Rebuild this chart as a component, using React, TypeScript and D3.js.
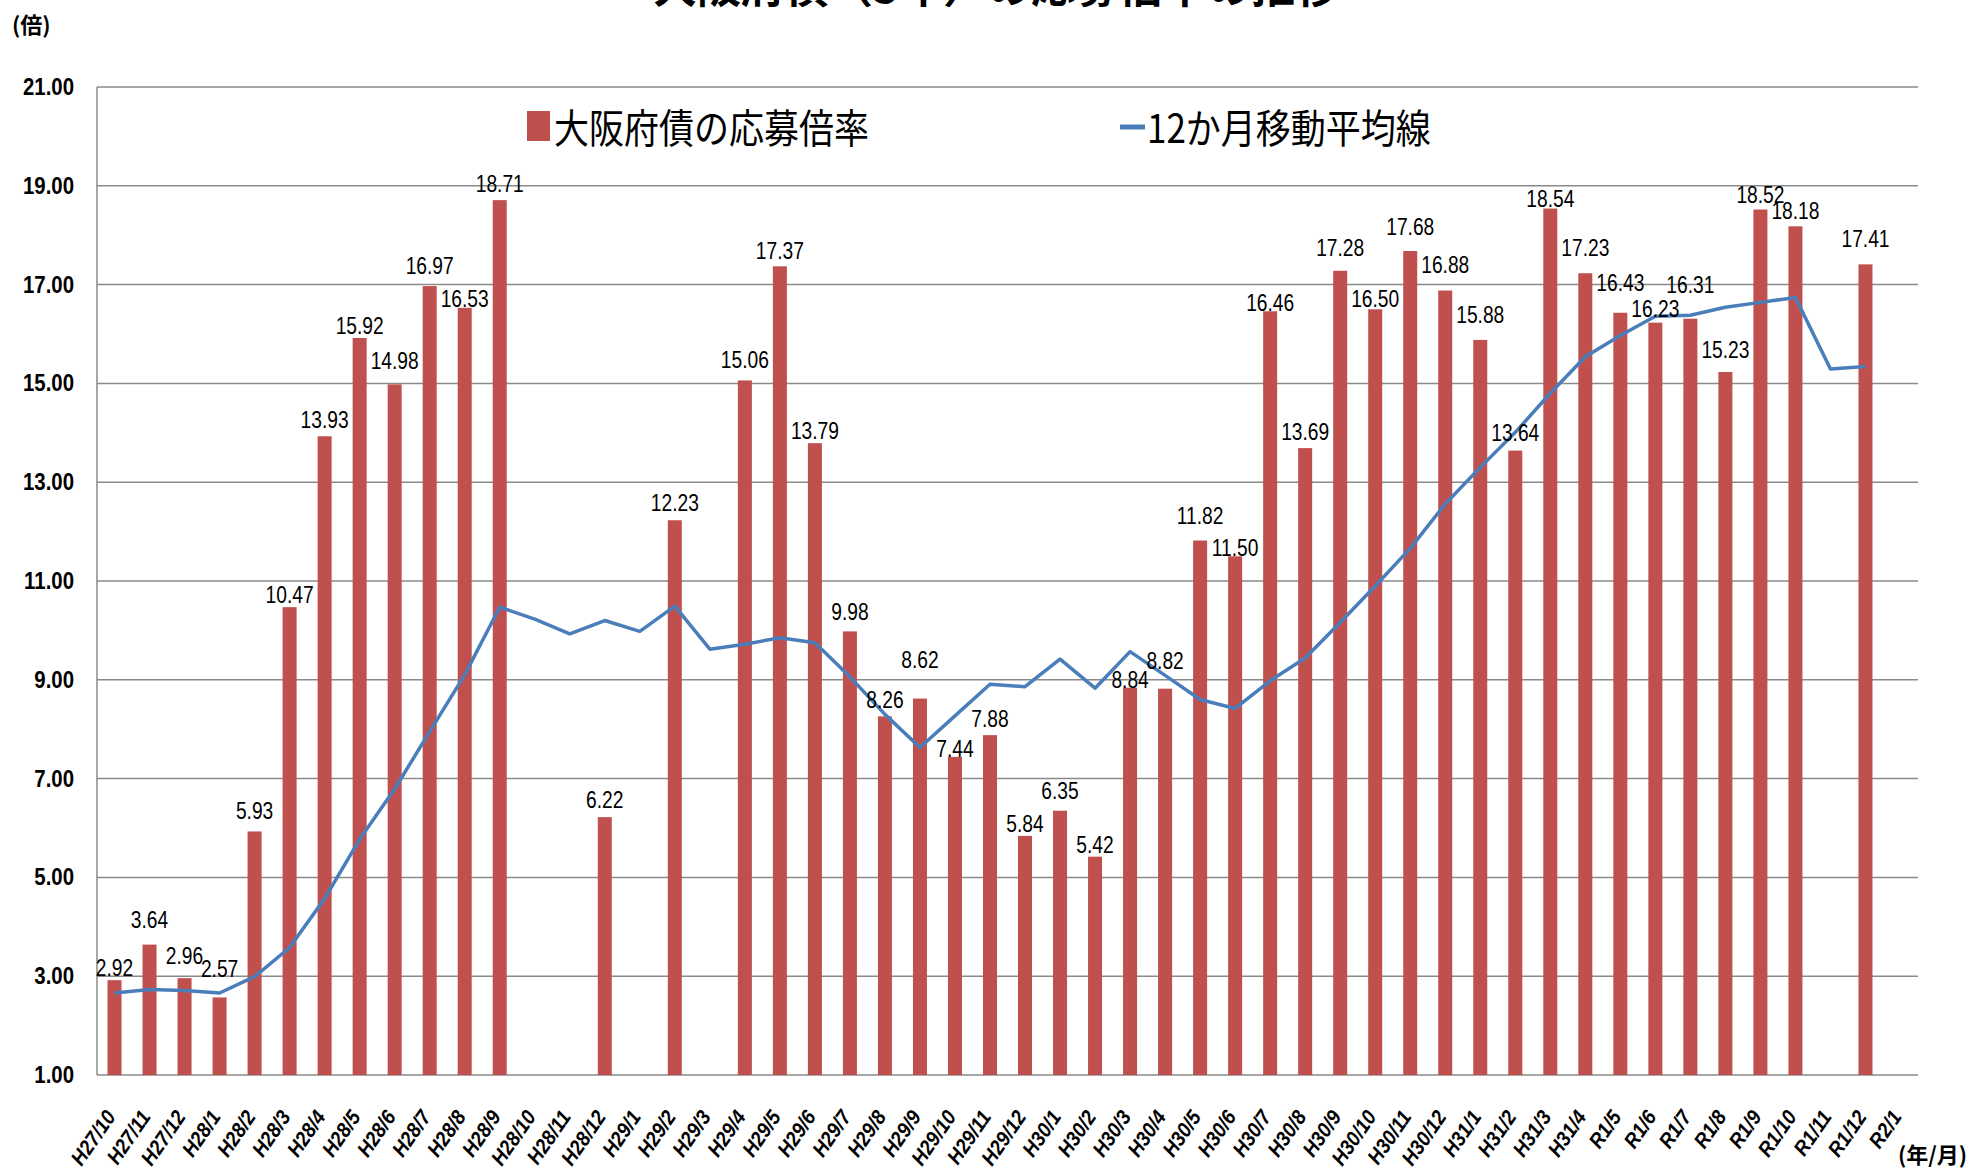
import React, { useEffect, useRef } from 'react';
import * as d3 from 'd3';

// months (和暦 年/月)
const months = [
  'H27/10', 'H27/11', 'H27/12',
  'H28/1', 'H28/2', 'H28/3', 'H28/4', 'H28/5', 'H28/6', 'H28/7', 'H28/8', 'H28/9', 'H28/10', 'H28/11', 'H28/12',
  'H29/1', 'H29/2', 'H29/3', 'H29/4', 'H29/5', 'H29/6', 'H29/7', 'H29/8', 'H29/9', 'H29/10', 'H29/11', 'H29/12',
  'H30/1', 'H30/2', 'H30/3', 'H30/4', 'H30/5', 'H30/6', 'H30/7', 'H30/8', 'H30/9', 'H30/10', 'H30/11', 'H30/12',
  'H31/1', 'H31/2', 'H31/3', 'H31/4',
  'R1/5', 'R1/6', 'R1/7', 'R1/8', 'R1/9', 'R1/10', 'R1/11', 'R1/12', 'R2/1'
];

// 大阪府債の応募倍率 (null = no issue that month)
const ratios: (number | null)[] = [
  2.92, 3.64, 2.96,
  2.57, 5.93, 10.47, 13.93, 15.92, 14.98, 16.97, 16.53, 18.71, null, null, 6.22,
  null, 12.23, null, 15.06, 17.37, 13.79, 9.98, 8.26, 8.62, 7.44, 7.88, 5.84,
  6.35, 5.42, 8.84, 8.82, 11.82, 11.50, 16.46, 13.69, 17.28, 16.50, 17.68, 16.88,
  15.88, 13.64, 18.54, 17.23,
  16.43, 16.23, 16.31, 15.23, 18.52, 18.18, null, 17.41, null
];

// 12か月移動平均線
const movingAvg: (number | null)[] = [
  2.66, 2.73, 2.71,
  2.66, 2.99, 3.58, 4.57, 5.77, 6.79, 7.95, 9.1, 10.47, 10.23, 9.93, 10.2,
  9.98, 10.49, 9.62, 9.72, 9.85, 9.75, 9.06, 8.3, 7.63, 8.27, 8.91, 8.86,
  9.42, 8.83, 9.57, 9.09, 8.6, 8.42, 8.98, 9.44, 10.16, 10.9, 11.66, 12.56,
  13.3, 14.01, 14.8, 15.54,
  15.97, 16.36, 16.38, 16.54, 16.64, 16.74, 15.29, 15.34, null
];

const yTicks = [1, 3, 5, 7, 9, 11, 13, 15, 17, 19, 21];

// how far (px) each data label sits above its bar, as placed in the original
const labelGap: Record<string, number> = {
  'H27/10': 4, 'H27/11': 17, 'H27/12': 14, 'H28/1': 20, 'H28/2': 12, 'H28/3': 4,
  'H28/4': 8, 'H28/5': 4, 'H28/6': 15, 'H28/7': 12, 'H28/8': 1, 'H28/9': 8,
  'H28/12': 9, 'H29/2': 9, 'H29/4': 12, 'H29/5': 7, 'H29/6': 4, 'H29/7': 11,
  'H29/8': 8, 'H29/9': 31, 'H29/10': 0, 'H29/11': 8, 'H29/12': 4,
  'H30/1': 12, 'H30/2': 4, 'H30/3': 0, 'H30/4': 20, 'H30/5': 16, 'H30/6': 0,
  'H30/7': 0, 'H30/8': 8, 'H30/9': 15, 'H30/10': 2, 'H30/11': 16, 'H30/12': 18,
  'H31/1': 17, 'H31/2': 10, 'H31/3': 2, 'H31/4': 17,
  'R1/5': 22, 'R1/6': 6, 'R1/7': 26, 'R1/8': 14, 'R1/9': 7, 'R1/10': 7, 'R1/12': 17
};

const BAR_COLOR = '#C0504D';
const LINE_COLOR = '#4A7EBB';
const GRID_COLOR = '#8a8a8a';
const SANS = "'Liberation Sans', Arial, sans-serif";
const JP = "'Noto Sans CJK JP', sans-serif";

const App = () => {
  const ref = useRef<SVGSVGElement | null>(null);

  useEffect(() => {
    const width = 1977;
    const height = 1174;
    const plot = { left: 97, right: 1918, top: 87, bottom: 1075 };

    const svg = d3.select(ref.current);
    svg.selectAll('*').remove();
    svg.attr('width', width).attr('height', height);

    const x = d3.scaleBand<string>().domain(months).range([plot.left, plot.right]).paddingInner(0).paddingOuter(0);
    const y = d3.scaleLinear().domain([1, 21]).range([plot.bottom, plot.top]);
    const cx = (m: string) => (x(m) as number) + x.bandwidth() / 2;

    // title (cut off at the top of the picture, as in the original)
    svg.append('text')
      .attr('x', 996).attr('y', 3)
      .attr('text-anchor', 'middle')
      .style('font-family', JP).style('font-weight', 'bold').style('font-size', '44px')
      .text('大阪府債（5年）の応募倍率の推移');

    // horizontal grid lines
    svg.append('g').selectAll('line')
      .data(yTicks)
      .enter().append('line')
      .attr('x1', plot.left).attr('x2', plot.right)
      .attr('y1', d => y(d)).attr('y2', d => y(d))
      .attr('stroke', GRID_COLOR).attr('stroke-width', 1.5);

    // left axis line
    svg.append('line')
      .attr('x1', plot.left).attr('x2', plot.left)
      .attr('y1', plot.top).attr('y2', plot.bottom)
      .attr('stroke', GRID_COLOR).attr('stroke-width', 1.5);

    // y tick labels
    svg.append('g').selectAll('text')
      .data(yTicks)
      .enter().append('text')
      .attr('transform', d => `translate(74,${y(d) + 8}) scale(0.85,1)`)
      .attr('text-anchor', 'end')
      .style('font-family', SANS).style('font-weight', 'bold').style('font-size', '24px')
      .text(d => d.toFixed(2));

    svg.append('text')
      .attr('x', 12).attr('y', 33)
      .style('font-family', JP).style('font-weight', 'bold').style('font-size', '22px')
      .text('(倍)');

    // bars
    const barW = x.bandwidth() * 0.4;
    const barData = months.map((m, i) => ({ m, v: ratios[i] })).filter(d => d.v !== null) as { m: string; v: number }[];
    svg.append('g').selectAll('rect')
      .data(barData)
      .enter().append('rect')
      .attr('x', d => cx(d.m) - barW / 2)
      .attr('y', d => y(d.v))
      .attr('width', barW)
      .attr('height', d => y(1) - y(d.v))
      .attr('fill', BAR_COLOR);

    // moving average line
    const lineData = months.map((m, i) => ({ m, v: movingAvg[i] })).filter(d => d.v !== null) as { m: string; v: number }[];
    const line = d3.line<{ m: string; v: number }>().x(d => cx(d.m)).y(d => y(d.v));
    svg.append('path')
      .datum(lineData)
      .attr('d', line)
      .attr('fill', 'none')
      .attr('stroke', LINE_COLOR)
      .attr('stroke-width', 3.5)
      .attr('stroke-linejoin', 'round');

    // data labels
    svg.append('g').selectAll('text')
      .data(barData)
      .enter().append('text')
      .attr('transform', d => `translate(${cx(d.m)},${y(d.v) - (labelGap[d.m] ?? 6)}) scale(0.8,1)`)
      .attr('text-anchor', 'middle')
      .style('font-family', SANS).style('font-size', '24px')
      .text(d => d.v.toFixed(2));

    // x tick labels (rotated)
    svg.append('g').selectAll('text')
      .data(months)
      .enter().append('text')
      .attr('transform', d => `translate(${cx(d) + 2},${plot.bottom + 42}) rotate(-55) scale(0.9,1)`)
      .attr('text-anchor', 'end')
      .style('font-family', SANS).style('font-weight', 'bold').style('font-style', 'italic').style('font-size', '21px')
      .text(d => d);

    svg.append('text')
      .attr('x', 1898).attr('y', 1163)
      .style('font-family', JP).style('font-weight', 'bold').style('font-size', '22px')
      .text('(年/月)');

    // legend
    const legend = svg.append('g');
    legend.append('rect')
      .attr('x', 527).attr('y', 111).attr('width', 23).attr('height', 30)
      .attr('fill', BAR_COLOR);
    legend.append('text')
      .attr('transform', 'translate(554,143) scale(0.875,1)')
      .style('font-family', JP).style('font-size', '40px')
      .text('大阪府債の応募倍率');
    legend.append('line')
      .attr('x1', 1120).attr('x2', 1145).attr('y1', 127).attr('y2', 127)
      .attr('stroke', LINE_COLOR).attr('stroke-width', 5);
    legend.append('text')
      .attr('transform', 'translate(1147,143) scale(0.875,1)')
      .style('font-family', JP).style('font-size', '40px')
      .text('12か月移動平均線');
  }, []);

  return <svg ref={ref} style={{ position: 'absolute', left: 0, top: 0, background: '#fff' }}></svg>;
};

export default App;
